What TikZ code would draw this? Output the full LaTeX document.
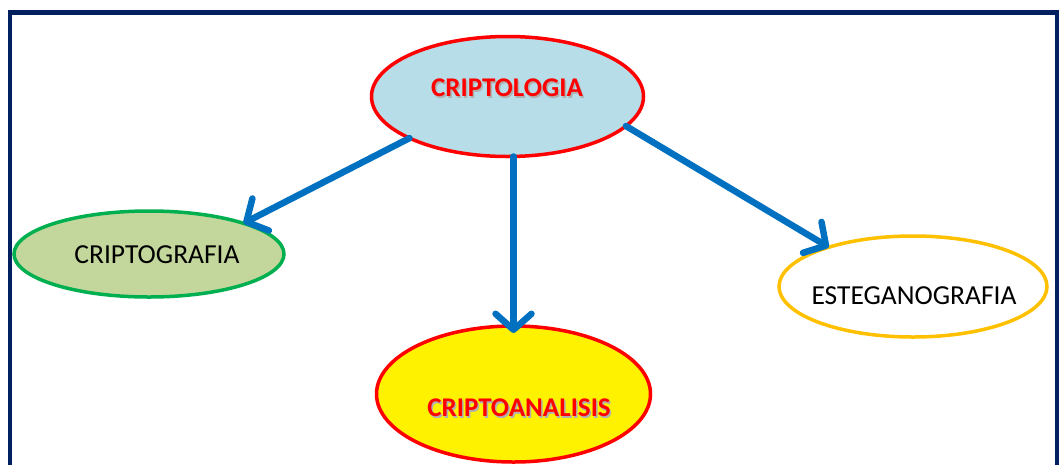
\documentclass[tikz,border=0pt]{standalone}
\usepackage{fontspec}
\setmainfont{Carlito}
\usetikzlibrary{shapes.geometric,arrows.meta}
\definecolor{framenavy}{HTML}{002060}
\definecolor{arrowblue}{HTML}{0070C0}
\definecolor{lightblue}{HTML}{B7DDE8}
\definecolor{olivegreen}{HTML}{C3D69B}
\definecolor{bordergreen}{HTML}{00B050}
\definecolor{amber}{HTML}{FFC000}
\definecolor{shadowgray}{HTML}{B0B0B0}
\begin{document}
\begin{tikzpicture}[x=1pt,y=-1pt,
  bubble/.style={ellipse,draw,line width=3.5pt,inner sep=0pt,outer sep=0pt},
  plainlabel/.style={font=\fontsize{27.5}{30}\selectfont,text=black},
  boldlabel/.style={font=\bfseries\fontsize{27}{30}\selectfont,text=red},
  shadowlabel/.style={font=\bfseries\fontsize{27}{30}\selectfont,text=shadowgray},
  link/.style={draw=arrowblue,line width=6.5pt,line cap=round,
    -{Straight Barb[length=16pt,width=36pt,line cap=round,line join=round]}}]
\useasboundingbox (0,0) rectangle (1059,464);
% outer frame
\draw[framenavy,line width=4.5pt] (10,480) -- (10,12.5) -- (1057,12.5) -- (1057,480);
% ellipses
\node[bubble,draw=red,fill=lightblue,minimum width=272pt,minimum height=120pt] (logia) at (507.5,96.5) {};
\node[bubble,draw=bordergreen,fill=olivegreen,minimum width=270pt,minimum height=86pt] (grafia) at (149,254) {};
\node[bubble,draw=amber,fill=white,minimum width=268pt,minimum height=101pt] (esteg) at (913,286.5) {};
\node[bubble,draw=red,fill=yellow,minimum width=274pt,minimum height=136pt] (anal) at (513.5,394) {};
% labels
\node[shadowlabel] at (508.5,89.5) {CRIPTOLOGIA};
\node[boldlabel] (tlogia) at (507,88) {CRIPTOLOGIA};
\node[shadowlabel] at (520.5,409.5) {CRIPTOANALISIS};
\node[boldlabel] (tanal) at (519,408) {CRIPTOANALISIS};
\node[plainlabel] (tgrafia) at (157,255) {CRIPTOGRAFIA};
\node[plainlabel] (testeg) at (914,296) {ESTEGANOGRAFIA};
% connectors
\coordinate (downtip) at ([yshift=-7pt]anal.north);
\draw[link] (logia.203) -- (grafia.18);
\draw[link] (logia.south -| anal.north) -- (downtip);
\draw[link] (logia.346) -- (esteg.155);
\end{tikzpicture}
\end{document}
